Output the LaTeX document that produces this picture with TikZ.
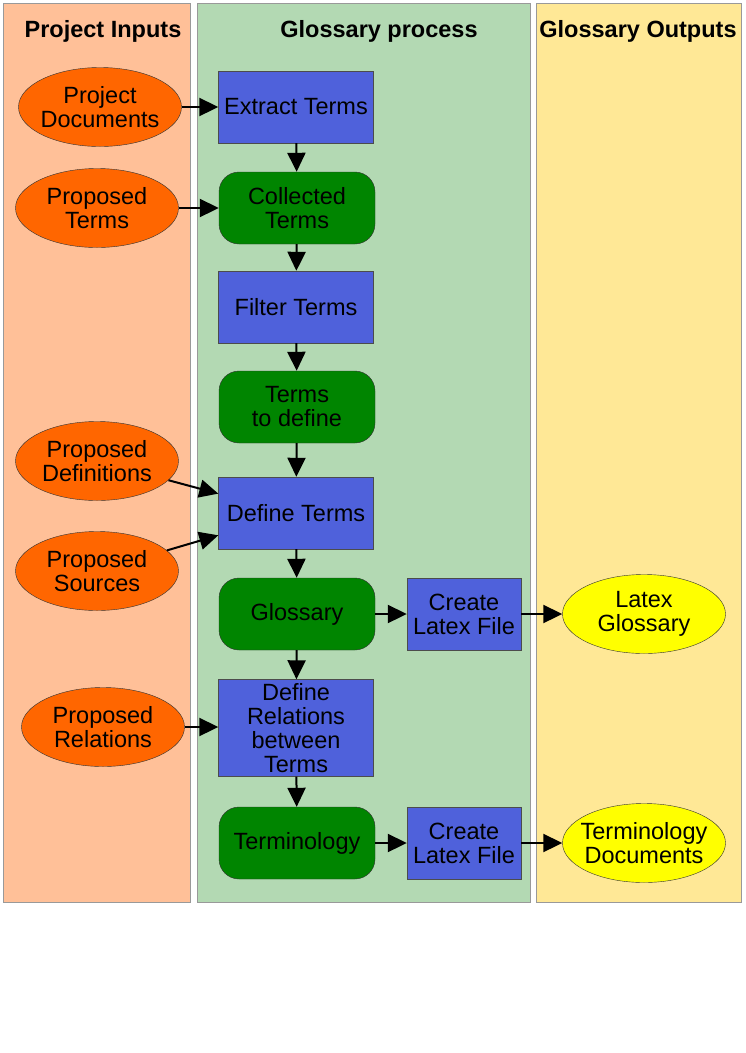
\documentclass[tikz,border=0pt]{standalone}
\usepackage{fontspec}
\setmainfont{Liberation Sans}
\usetikzlibrary{shapes.geometric,arrows.meta}
\definecolor{laneIn}{RGB}{255,192,152}
\definecolor{laneProc}{RGB}{179,217,179}
\definecolor{laneOut}{RGB}{255,232,150}
\definecolor{inFill}{RGB}{255,102,0}
\definecolor{taskFill}{RGB}{79,97,219}
\definecolor{dataFill}{RGB}{0,133,0}
\definecolor{outFill}{RGB}{255,255,0}
\begin{document}
\begin{tikzpicture}[x=1pt,y=-1pt,
  every node/.style={font=\fontsize{23.5}{24}\selectfont, align=center},
  lane/.style={draw=gray!80, line width=0.8pt},
  lanetitle/.style={font=\fontsize{23.5}{24}\selectfont\bfseries},
  input/.style={ellipse, draw=black!80, fill=inFill, inner ysep=0pt, inner xsep=-20pt,
    minimum width=163pt, minimum height=79pt},
  output/.style={input, fill=outFill},
  task/.style={rectangle, draw=black!70, fill=taskFill, inner sep=0pt,
    minimum width=155pt, minimum height=72pt},
  smalltask/.style={task, minimum width=114pt},
  datastore/.style={rectangle, rounded corners=20pt, draw=black!80, fill=dataFill,
    inner sep=0pt, minimum width=156pt, minimum height=72pt},
  flow/.style={-{Triangle[length=19pt,width=18pt]}, line width=2pt}]
  \useasboundingbox (0,0) rectangle (745,1053);
  % swim lanes
  \filldraw[lane, fill=laneIn] (3,3) rectangle (190,902);
  \filldraw[lane, fill=laneProc] (197,3) rectangle (530,902);
  \filldraw[lane, fill=laneOut] (536,3) rectangle (741,902);
  \node[lanetitle] (tin) at (103,31) {Project Inputs};
  \node[lanetitle] (tproc) at (379,31) {Glossary process};
  \node[lanetitle] (tout) at (638,31) {Glossary Outputs};
  % inputs
  \node[input] (pdoc) at (100,107) {Project\\Documents};
  \node[input] (pterm) at (97,208) {Proposed\\Terms};
  \node[input] (pdef) at (97,461) {Proposed\\Definitions};
  \node[input] (psrc) at (97,571) {Proposed\\Sources};
  \node[input] (prel) at (103,727) {Proposed\\Relations};
  % process
  \node[task] (extract) at (296,107) {Extract Terms};
  \node[datastore] (collected) at (297,208) {Collected\\Terms};
  \node[task] (filter) at (296,307) {Filter Terms};
  \node[datastore] (todefine) at (297,407) {Terms\\to define};
  \node[task] (define) at (296,513) {Define Terms};
  \node[datastore] (glossary) at (297,614) {Glossary};
  \node[smalltask] (latexA) at (464,614) {Create\\Latex File};
  \node[task, minimum height=97pt] (relate) at (296,728) {Define\\Relations\\between\\Terms};
  \node[datastore] (terminology) at (297,843) {Terminology};
  \node[smalltask] (latexB) at (464,843) {Create\\Latex File};
  % outputs
  \node[output] (lglos) at (644,614) {Latex\\Glossary};
  \node[output] (tdocs) at (644,843) {Terminology\\Documents};
  % flows
  \draw[flow] (pdoc) -- (extract);
  \draw[flow] (pterm) -- (collected);
  \draw[flow] (pdef) -- (define.166);
  \draw[flow] (psrc) -- (define.196);
  \draw[flow] (prel) -- (relate.west |- prel);
  \draw[flow] (extract) -- (collected);
  \draw[flow] (collected) -- (filter);
  \draw[flow] (filter) -- (todefine);
  \draw[flow] (todefine) -- (define);
  \draw[flow] (define) -- (glossary);
  \draw[flow] (glossary) -- (relate);
  \draw[flow] (relate) -- (terminology);
  \draw[flow] (glossary) -- (latexA);
  \draw[flow] (latexA) -- (lglos);
  \draw[flow] (terminology) -- (latexB);
  \draw[flow] (latexB) -- (tdocs);
\end{tikzpicture}
\end{document}
